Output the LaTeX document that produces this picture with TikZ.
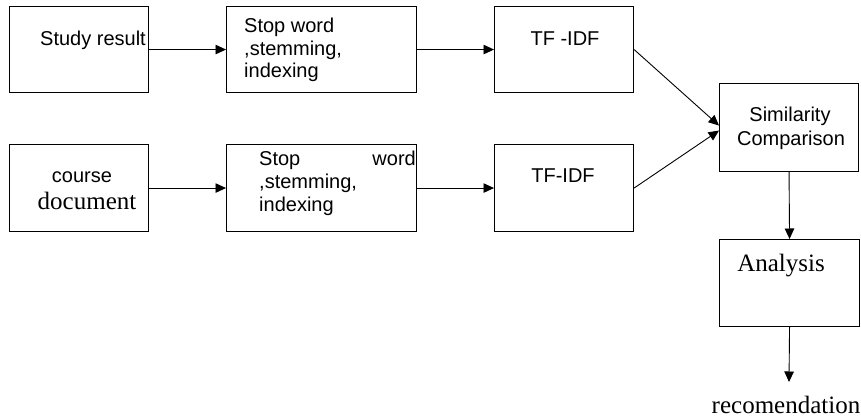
\documentclass[tikz,border=0pt]{standalone}
\usepackage{fontspec}
\setmainfont{Liberation Serif}
\setsansfont{Liberation Sans}
\usetikzlibrary{arrows.meta}
\tikzset{
  box/.style={draw=black, line width=1.1pt, inner sep=0pt, anchor=north west},
  sanslbl/.style={inner sep=0pt, font=\sffamily\fontsize{20}{24}\selectfont},
  seriflbl/.style={inner sep=0pt, font=\rmfamily\fontsize{25}{30}\selectfont},
  conn/.style={draw=black, line width=0.9pt, -{Triangle[length=10.5pt,width=9.5pt]}},
  plain/.style={draw=black, line width=0.9pt}
}
\begin{document}
\begin{tikzpicture}[x=1pt,y=-1pt]
\useasboundingbox (0,0) rectangle (861,419);
% boxes
\node[box, minimum width=139pt, minimum height=86pt] (b1) at (9,6) {};
\node[box, minimum width=190pt, minimum height=86pt] (b2) at (226,6) {};
\node[box, minimum width=139pt, minimum height=86pt] (t1) at (494,6) {};
\node[box, minimum width=139pt, minimum height=87pt] (b3) at (9,144) {};
\node[box, minimum width=190pt, minimum height=87pt] (b4) at (226,144) {};
\node[box, minimum width=139pt, minimum height=87pt] (t2) at (494,144) {};
\node[box, minimum width=139pt, minimum height=88pt] (sim) at (719,83) {};
\node[box, minimum width=140pt, minimum height=87pt] (ana) at (719,239) {};
% texts
\node[sanslbl, anchor=base west] (l1) at (40,46) {Study result};
\node[sanslbl, anchor=base west] (l2a) at (244,33) {Stop word};
\node[sanslbl, anchor=base west] (l2b) at (244,55.5) {,stemming,};
\node[sanslbl, anchor=base west] (l2c) at (244,78) {indexing};
\node[sanslbl, anchor=base] (l3) at (565,46) {TF -IDF};
\node[sanslbl, anchor=base] (l4a) at (82,183) {course};
\node[seriflbl, anchor=base] (l4b) at (87,210) {document};
\node[sanslbl, anchor=base west] (l5a) at (259,166) {Stop};
\node[sanslbl, anchor=base east] (l5w) at (416,166) {word};
\node[sanslbl, anchor=base west] (l5b) at (259,189) {,stemming,};
\node[sanslbl, anchor=base west] (l5c) at (259,212) {indexing};
\node[sanslbl, anchor=base] (l6) at (563,183) {TF-IDF};
\node[sanslbl, anchor=base] (l7a) at (790,122) {Similarity};
\node[sanslbl, anchor=base] (l7b) at (791,146) {Comparison};
\node[seriflbl, anchor=base] (l8) at (781,272) {Analysis};
\node[seriflbl, anchor=base] (rec) at (786,413) {recomendation};
\coordinate (recin) at (789,382);
% connectors
\draw[conn] (b1.east) -- (b2.west);
\draw[conn] (b2.east) -- (t1.west);
\draw[conn] (b3.east) -- (b4.west);
\draw[conn] (b4.east) -- (t2.west);
\draw[conn] (t1.east) -- ([yshift=2pt]sim.west);
\draw[conn] (t2.east) -- ([yshift=-3pt]sim.west);
\draw[conn] (sim.south) -- (ana.north);
\draw[conn] (ana.south) -- (recin);
\end{tikzpicture}
\end{document}
